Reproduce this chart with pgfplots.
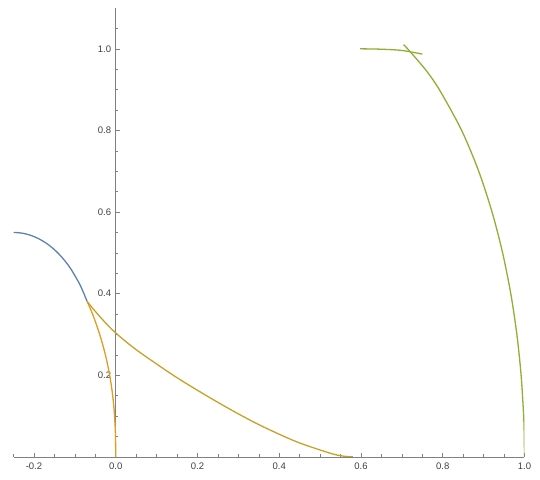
\documentclass[border=0pt]{standalone}
\usepackage{fontspec}
\setmainfont{Liberation Sans}
\usepackage{pgfplots}
\pgfplotsset{compat=1.18}
\definecolor{mblue}{rgb}{0.368,0.507,0.710}
\definecolor{morange}{rgb}{0.881,0.611,0.142}
\definecolor{mgreen}{rgb}{0.560,0.692,0.195}
\colorlet{molive}{morange!70!mgreen}
\begin{document}
\begin{tikzpicture}
\begin{axis}[
  scale only axis, width=510pt, height=448pt,
  xmin=-0.25, xmax=1.0, ymin=0, ymax=1.1,
  axis lines=middle,
  axis line style={-, color=black!50, line width=0.6pt},
  xtick={-0.2,0,0.2,0.4,0.6,0.8,1.0},
  ytick={0.2,0.4,0.6,0.8,1.0},
  minor xtick={-0.25,-0.15,-0.1,-0.05,0.05,0.1,0.15,0.25,0.3,0.35,0.45,0.5,0.55,0.65,0.7,0.75,0.85,0.9,0.95},
  minor ytick={0.05,0.1,0.15,0.25,0.3,0.35,0.45,0.5,0.55,0.65,0.7,0.75,0.85,0.9,0.95,1.05},
  hide obscured x ticks=false,
  hide obscured y ticks=false,
  tick align=inside,
  major tick length=4pt, minor tick length=2.5pt,
  every tick/.style={black!50, line width=0.5pt},
  tick label style={font=\fontsize{9.5}{11}\selectfont, text=black!75},
  xticklabel style={below, yshift=-2pt},
  yticklabel style={left, xshift=-1pt},
  /pgf/number format/.cd, fixed, fixed zerofill, precision=1, assume math mode=true,
]
\coordinate (bl) at (axis cs:-0.25,0);
\coordinate (tr) at (axis cs:1.0,1.1);
% blue
\addplot[mblue, line width=1.3pt, smooth] coordinates {
(-0.250,0.5500) (-0.230,0.5484) (-0.210,0.5436) (-0.190,0.5354) (-0.170,0.5236)
(-0.150,0.5078) (-0.130,0.4872) (-0.110,0.4609) (-0.090,0.4267) (-0.080,0.4055) (-0.070,0.3810)};
% orange steep arc to origin
\addplot[morange, line width=1.3pt, smooth] coordinates {
(-0.0700,0.381) (-0.0607,0.360) (-0.0529,0.340) (-0.0458,0.320) (-0.0392,0.300)
(-0.0304,0.270) (-0.0229,0.240) (-0.0167,0.210) (-0.0115,0.180) (-0.0074,0.150)
(-0.0043,0.120) (-0.0022,0.090) (-0.0008,0.060) (-0.0002,0.030) (0,0)};
% olive curve to (0.58,0)
\addplot[molive, line width=1.3pt, smooth] coordinates {
(-0.070,0.3811) (-0.055,0.3624) (-0.040,0.3451) (-0.020,0.3231) (0,0.3037) (0.030,0.2782)
(0.067,0.2504) (0.149,0.1946) (0.230,0.1452) (0.300,0.1053) (0.361,0.0736) (0.443,0.0367)
(0.525,0.0088) (0.555,0.0020) (0.580,0.0)};
% green arc
\addplot[mgreen, line width=1.3pt, smooth] coordinates {
(1.0000,0.00) (0.9995,0.05) (0.9980,0.10) (0.9918,0.20) (0.9814,0.30) (0.9665,0.40)
(0.9465,0.50) (0.9207,0.60) (0.8880,0.70) (0.8463,0.80) (0.7917,0.90) (0.7570,0.95)
(0.7141,1.00) (0.7041,1.01)};
% green short curve
\addplot[mgreen, line width=1.3pt, smooth] coordinates {
(0.598,1.000) (0.650,0.999) (0.700,0.996) (0.750,0.987)};
\end{axis}
\pgfresetboundingbox
\path[use as bounding box] ([xshift=-13.5pt,yshift=-22.5pt]bl) rectangle ([xshift=15.5pt,yshift=8pt]tr);
\end{tikzpicture}
\end{document}
